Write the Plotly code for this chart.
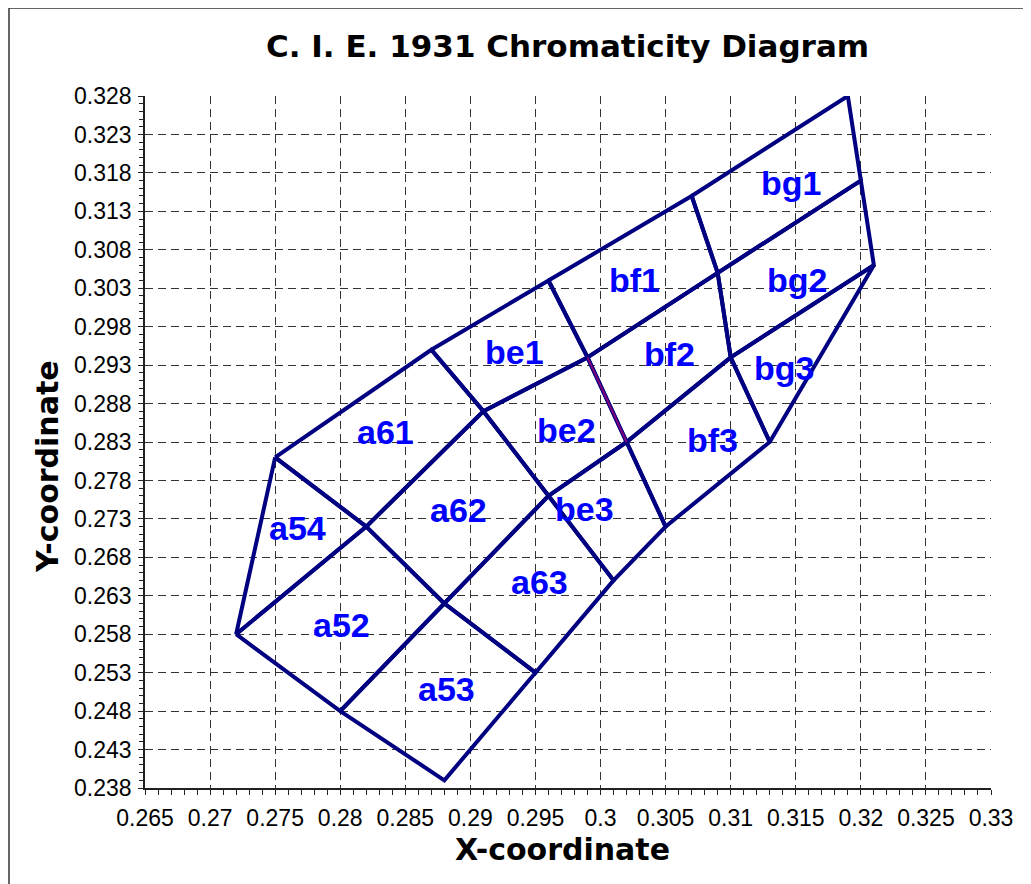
import plotly.graph_objects as go

# ---- data ----
cell_names = ["a54", "a61", "a52", "a62", "a53", "a63",
              "be1", "be2", "be3", "bf1", "bf2", "bf3",
              "bg1", "bg2", "bg3"]
cell_x = [
    [0.275, 0.282, 0.272, 0.275],
    [0.275, 0.287, 0.291, 0.282, 0.275],
    [0.272, 0.282, 0.288, 0.280, 0.272],
    [0.282, 0.291, 0.296, 0.288, 0.282],
    [0.280, 0.288, 0.295, 0.288, 0.280],
    [0.288, 0.296, 0.301, 0.295, 0.288],
    [0.287, 0.296, 0.299, 0.291, 0.287],
    [0.291, 0.299, 0.302, 0.296, 0.291],
    [0.296, 0.302, 0.305, 0.301, 0.296],
    [0.296, 0.307, 0.309, 0.299, 0.296],
    [0.299, 0.309, 0.310, 0.302, 0.299],
    [0.302, 0.310, 0.313, 0.305, 0.302],
    [0.307, 0.319, 0.320, 0.309, 0.307],
    [0.309, 0.320, 0.321, 0.310, 0.309],
    [0.310, 0.321, 0.313, 0.310],
]
cell_y = [
    [0.281, 0.272, 0.258, 0.281],
    [0.281, 0.295, 0.287, 0.272, 0.281],
    [0.258, 0.272, 0.262, 0.248, 0.258],
    [0.272, 0.287, 0.276, 0.262, 0.272],
    [0.248, 0.262, 0.253, 0.239, 0.248],
    [0.262, 0.276, 0.265, 0.253, 0.262],
    [0.295, 0.304, 0.294, 0.287, 0.295],
    [0.287, 0.294, 0.283, 0.276, 0.287],
    [0.276, 0.283, 0.272, 0.265, 0.276],
    [0.304, 0.315, 0.305, 0.294, 0.304],
    [0.294, 0.305, 0.294, 0.283, 0.294],
    [0.283, 0.294, 0.283, 0.272, 0.283],
    [0.315, 0.328, 0.317, 0.305, 0.315],
    [0.305, 0.317, 0.306, 0.294, 0.305],
    [0.294, 0.306, 0.283, 0.294],
]
# highlighted shared edge (be2 / bf2)
edge_x = [0.299, 0.302]
edge_y = [0.294, 0.283]

label_x = [0.2767, 0.2835, 0.2801, 0.2891, 0.2882, 0.2953,
           0.2934, 0.2974, 0.2988, 0.3026, 0.3053, 0.3086,
           0.3146, 0.3151, 0.3141]
label_y = [0.2718, 0.2843, 0.2592, 0.2742, 0.2509, 0.2648,
           0.2947, 0.2846, 0.2743, 0.3041, 0.2944, 0.2833,
           0.3167, 0.3041, 0.2926]

x_ticks = [0.265, 0.27, 0.275, 0.28, 0.285, 0.29, 0.295, 0.3,
           0.305, 0.31, 0.315, 0.32, 0.325, 0.33]
x_ticktext = ["0.265", "0.27", "0.275", "0.28", "0.285", "0.29", "0.295", "0.3",
              "0.305", "0.31", "0.315", "0.32", "0.325", "0.33"]
y_ticks = [0.238, 0.243, 0.248, 0.253, 0.258, 0.263, 0.268, 0.273, 0.278,
           0.283, 0.288, 0.293, 0.298, 0.303, 0.308, 0.313, 0.318, 0.323, 0.328]
y_ticktext = ["0.238", "0.243", "0.248", "0.253", "0.258", "0.263", "0.268",
              "0.273", "0.278", "0.283", "0.288", "0.293", "0.298", "0.303",
              "0.308", "0.313", "0.318", "0.323", "0.328"]

# ---- figure ----
fig = go.Figure()
NAVY = "#000080"
for name, xs, ys in zip(cell_names, cell_x, cell_y):
    fig.add_trace(go.Scatter(x=xs, y=ys, mode="lines", name=name,
                             line=dict(color=NAVY, width=4),
                             showlegend=False, hoverinfo="name"))
fig.add_trace(go.Scatter(x=edge_x, y=edge_y, mode="lines",
                         line=dict(color="#800080", width=2),
                         showlegend=False, hoverinfo="skip"))

for name, lx, ly in zip(cell_names, label_x, label_y):
    fig.add_annotation(x=lx, y=ly, text=name, showarrow=False,
                       font=dict(family="Liberation Sans, Arial", size=34,
                                 color="#0000FF", weight="bold"),
                       xanchor="center", yanchor="middle")

# page body has an 8px margin, so the figure is offset by (8, 8)
OFF = 8
W, H = 1031 - OFF, 884 - OFF
L, T = 145 - OFF, 96 - OFF
R = W - (991 - OFF)
B = H - (788 - OFF)
fig.update_layout(
    width=W, height=H,
    margin=dict(l=L, r=R, t=T, b=B),
    paper_bgcolor="white", plot_bgcolor="white",
    showlegend=False,
)
grid = dict(showgrid=True, gridcolor="#333333", gridwidth=1, griddash="8px,5px",
            zeroline=False, showline=True, linecolor="#222222", linewidth=1.5,
            ticks="outside", ticklen=5, tickcolor="#222222",
            tickfont=dict(family="Liberation Sans, Arial", size=23, color="black"))
fig.update_xaxes(range=[0.265, 0.33], tickmode="array", tickvals=x_ticks,
                 ticktext=x_ticktext, ticklabelstandoff=4,
                 minor=dict(dtick=0.001, tick0=0.265, ticks="outside", ticklen=5,
                            tickcolor="#222222", showgrid=False),
                 **grid)
fig.update_yaxes(range=[0.238, 0.328], tickmode="array", tickvals=y_ticks,
                 ticktext=y_ticktext, ticklabelstandoff=2,
                 minor=dict(dtick=0.001, tick0=0.238, ticks="outside", ticklen=4,
                            tickcolor="#222222", showgrid=False),
                 **grid)

pw, ph = W - L - R, H - T - B


def px_x(p):
    return (p - OFF - L) / pw


def px_y(p):
    return (H - B - (p - OFF)) / ph


fig.add_annotation(xref="paper", yref="paper", x=px_x(567), y=px_y(46),
                   text="C. I. E. 1931 Chromaticity Diagram", showarrow=False,
                   font=dict(family="DejaVu Sans", size=31, color="black", weight="bold"),
                   xanchor="center", yanchor="middle")
fig.add_annotation(xref="paper", yref="paper", x=px_x(562), y=px_y(849),
                   text="X-coordinate", showarrow=False,
                   font=dict(family="DejaVu Sans", size=30, color="black", weight="bold"),
                   xanchor="center", yanchor="middle")
fig.add_annotation(xref="paper", yref="paper", x=px_x(47), y=px_y(467),
                   text="Y-coordinate", showarrow=False, textangle=-90,
                   font=dict(family="DejaVu Sans", size=30, color="black", weight="bold"),
                   xanchor="center", yanchor="middle")

# outer chart frame (left and top edges visible)
fig.add_shape(type="line", xref="paper", yref="paper",
              x0=px_x(9), y0=px_y(8), x1=px_x(9), y1=px_y(900),
              line=dict(color="#333333", width=1.5))
fig.add_shape(type="line", xref="paper", yref="paper",
              x0=px_x(9), y0=px_y(8), x1=px_x(1050), y1=px_y(8),
              line=dict(color="#333333", width=1.5))

fig.write_html("out.html")
